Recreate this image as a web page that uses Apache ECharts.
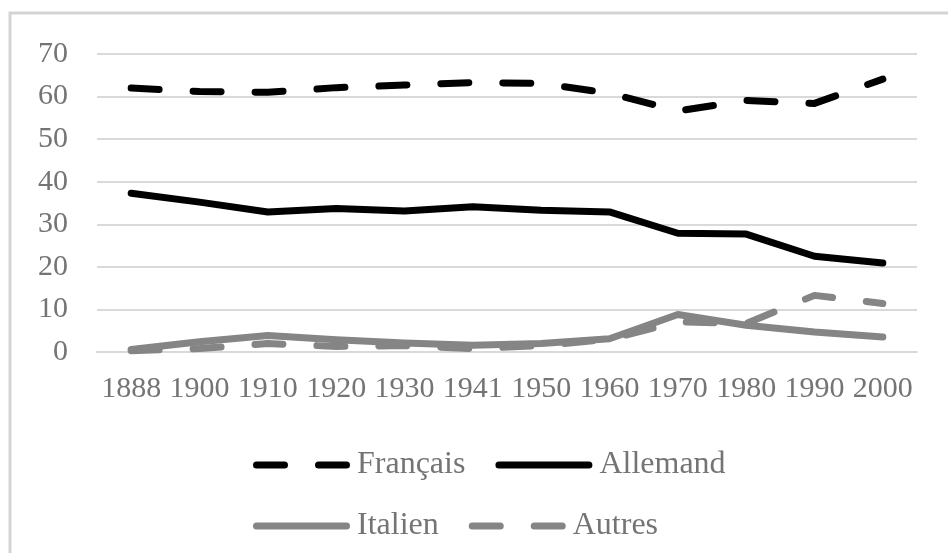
<!DOCTYPE html>
<html>
<head>
<meta charset="utf-8">
<script src="https://cdn.jsdelivr.net/npm/echarts@6/dist/echarts.min.js"></script>
<style>
html,body{margin:0;padding:0;background:#fff;}
#chart{width:948px;height:553px;}
</style>
</head>
<body>
<div id="chart"></div>
<script>
const years = ['1888','1900','1910','1920','1930','1941','1950','1960','1970','1980','1990','2000'];
const francais = [62.0, 61.2, 61.0, 62.1, 62.7, 63.3, 63.1, 60.8, 56.6, 59.1, 58.4, 64.1];
const allemand = [37.3, 35.2, 32.9, 33.7, 33.1, 34.1, 33.3, 32.9, 27.9, 27.7, 22.5, 20.9];
const italien  = [0.6, 2.4, 3.9, 2.9, 2.1, 1.6, 2.0, 3.1, 8.8, 6.3, 4.7, 3.5];
const autres   = [0.3, 0.8, 2.0, 1.3, 1.5, 0.8, 1.5, 3.0, 7.1, 6.7, 13.3, 11.4];
const yTicks = { min: 0, max: 70, interval: 10 };

const FONT = '"Liberation Serif", "Times New Roman", serif';
const TXT = '#747474';
const DASH = [28, 34];
const ICON_DASHED = 'path://M3.5,0h28a3.5,3.5 0 0 1 0,7h-28a3.5,3.5 0 0 1 0,-7z M65.5,0h28a3.5,3.5 0 0 1 0,7h-28a3.5,3.5 0 0 1 0,-7z';
const ICON_SOLID = 'path://M3.5,0h90a3.5,3.5 0 0 1 0,7h-90a3.5,3.5 0 0 1 0,-7z';

function mk(name, data, color, dashed) {
  return {
    name, type: 'line', data,
    symbol: 'none', showSymbol: false, smooth: false,
    lineStyle: { color, width: 7, type: dashed ? DASH : 'solid', cap: 'round', join: 'round' },
    itemStyle: { color },
    emphasis: { disabled: true },
    animation: false
  };
}

const legendBase = {
  orient: 'horizontal',
  itemWidth: 97, itemHeight: 7, itemGap: 30,
  textStyle: { color: TXT, fontFamily: FONT, fontSize: 32, padding: [0, 0, 0, 2] },
  itemStyle: { borderWidth: 0 },
  selectedMode: false
};

const chart = echarts.init(document.getElementById('chart'), null, { renderer: 'canvas' });
chart.setOption({
  backgroundColor: '#fff',
  animation: false,
  graphic: [{
    type: 'rect', silent: true,
    shape: { x: 10, y: 13, width: 1000, height: 600 },
    style: { fill: 'none', stroke: '#d4d4d4', lineWidth: 3 }
  }],
  grid: { left: 97, right: 31, top: 54, bottom: 201, containLabel: false },
  xAxis: {
    type: 'category', data: years, boundaryGap: true,
    axisLine: { show: true, lineStyle: { color: '#d9d9d9', width: 2 } },
    axisTick: { show: false },
    axisLabel: { interval: 0, color: TXT, fontFamily: FONT, fontSize: 30, margin: 22 }
  },
  yAxis: {
    type: 'value', min: yTicks.min, max: yTicks.max, interval: yTicks.interval,
    axisLine: { show: false }, axisTick: { show: false },
    splitLine: { lineStyle: { color: '#d9d9d9', width: 2 } },
    axisLabel: { color: TXT, fontFamily: FONT, fontSize: 30, margin: 29 }
  },
  legend: [
    Object.assign({}, legendBase, {
      data: [
        { name: 'Français', icon: ICON_DASHED },
        { name: 'Allemand', icon: ICON_SOLID }
      ],
      left: 248, top: 444
    }),
    Object.assign({}, legendBase, {
      data: [
        { name: 'Italien', icon: ICON_SOLID },
        { name: 'Autres', icon: ICON_DASHED }
      ],
      left: 248, top: 505
    })
  ],
  series: [
    mk('Français', francais, '#000000', true),
    mk('Allemand', allemand, '#000000', false),
    mk('Italien', italien, '#858585', false),
    mk('Autres', autres, '#858585', true)
  ]
});
</script>
</body>
</html>
